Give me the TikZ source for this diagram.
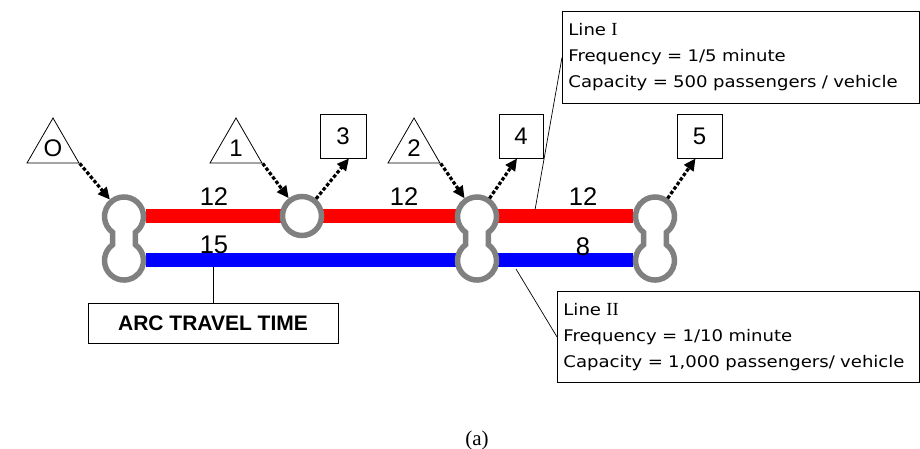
\documentclass[tikz,border=0pt]{standalone}
\usepackage{fontspec}
\setmainfont{Liberation Sans}
\newfontfamily\boxfont[FakeStretch=1.13]{DejaVu Sans}
\newfontfamily\capfont{Liberation Serif}
\usetikzlibrary{arrows.meta,shapes.geometric}
\definecolor{ringgray}{RGB}{128,128,128}
\newcommand\drawbulb[2]{%
  \draw[draw=ringgray, fill=white, line width=5.5pt] (#1,#2) ++(-54:19.5pt)
    arc[start angle=-54, end angle=234, radius=19.5pt] -- ++(0,-12.5)
    arc[start angle=126, end angle=414, radius=19.5pt] -- cycle;}
\begin{document}
\begin{tikzpicture}[x=1pt,y=1pt,
  tri/.style={draw, regular polygon, regular polygon sides=3, minimum size=60pt, inner sep=0pt, line width=0.8pt, font=\fontsize{24}{26}\selectfont},
  sq/.style={draw, rectangle, minimum height=44pt, inner sep=0pt, line width=0.8pt, font=\fontsize{24}{26}\selectfont},
  hub/.style={circle, minimum size=44pt, inner sep=0pt, outer sep=0pt},
  flow/.style={line width=3.2pt, dash pattern=on 3.5pt off 2pt, -{Triangle[length=12pt,width=11pt]}},
  lbl/.style={font=\fontsize{25.5}{27}\selectfont, inner sep=0pt},
  info/.style={draw, line width=0.8pt, rectangle, anchor=north west, align=left, inner xsep=6pt, inner ysep=0pt, font=\boxfont\fontsize{16}{26}\selectfont},
  callout/.style={line width=0.7pt}
]
\useasboundingbox (0,0) rectangle (920,449);

% hubs (invisible anchors for the stations)
\node[hub] (b0) at (124,232.5) {};
\node[hub] (b0l) at (124,188.5) {};
\node[hub] (b2) at (477,232.5) {};
\node[hub] (b2l) at (477,188.5) {};
\node[hub] (b3) at (655,232.5) {};
\node[hub] (b3l) at (655,188.5) {};

% arc travel time callout
\node[draw, line width=0.8pt, minimum width=250pt, minimum height=40pt, inner sep=0pt,
      font=\bfseries\fontsize{21}{23}\selectfont] (arc) at (213,126) {ARC TRAVEL TIME};
\coordinate (p3) at (213,193);
\draw[callout] (arc.north) -- (p3);

% lines
\draw[red, line width=14pt] (b0) -- (b3);
\draw[blue, line width=14pt] (b0l) -- (b3l);

% stations
\drawbulb{124}{232.5}
\drawbulb{477}{232.5}
\drawbulb{655}{232.5}
\node[circle, draw=ringgray, fill=white, line width=5.5pt, minimum size=39pt, inner sep=0pt] (c1) at (302,233) {};

% origins / destinations
\node[tri] (tO) at (53,301) {O};
\node[tri] (t1) at (236,301) {1};
\node[tri] (t2) at (414,301) {2};
\node[sq, minimum width=46pt] (n3) at (343,313) {3};
\node[sq, minimum width=44pt] (n4) at (521,313) {4};
\node[sq, minimum width=45pt] (n5) at (699.5,313) {5};

\draw[flow] (tO.corner 3) -- (b0);
\draw[flow] (t1.corner 3) -- (c1);
\draw[flow] (c1) -- (n3.-75);
\draw[flow] (t2.corner 3) -- (b2);
\draw[flow] (b2) -- (n4.-100);
\draw[flow] (b3) -- (n5.-100);

% travel times
\node[lbl] (w1) at (214,252) {12};
\node[lbl] (w2) at (404,252) {12};
\node[lbl] (w3) at (583,252) {12};
\node[lbl] (w4) at (214,204) {15};
\node[lbl] (w5) at (583,202) {8};

% line descriptions
\node[info, minimum width=357pt, minimum height=92pt, text width=345pt] (L1) at (562,438)
  {Line {\capfont\fontsize{18.5}{26}\selectfont I}\\Frequency = 1/5 minute\\Capacity = 500 passengers / vehicle};
\node[info, minimum width=362pt, minimum height=91pt, text width=350pt] (L2) at (557,158)
  {Line {\capfont\fontsize{18.5}{26}\selectfont II}\\Frequency = 1/10 minute\\Capacity = 1,000 passengers/ vehicle};
\coordinate (p1) at (535,239);
\draw[callout] (L1.west) -- (p1);
\coordinate (p2) at (516,180);
\draw[callout] (p2) -- (L2.west);

\node[font=\capfont\fontsize{21}{23}\selectfont] (cap) at (477,9) {(a)};
\end{tikzpicture}
\end{document}
